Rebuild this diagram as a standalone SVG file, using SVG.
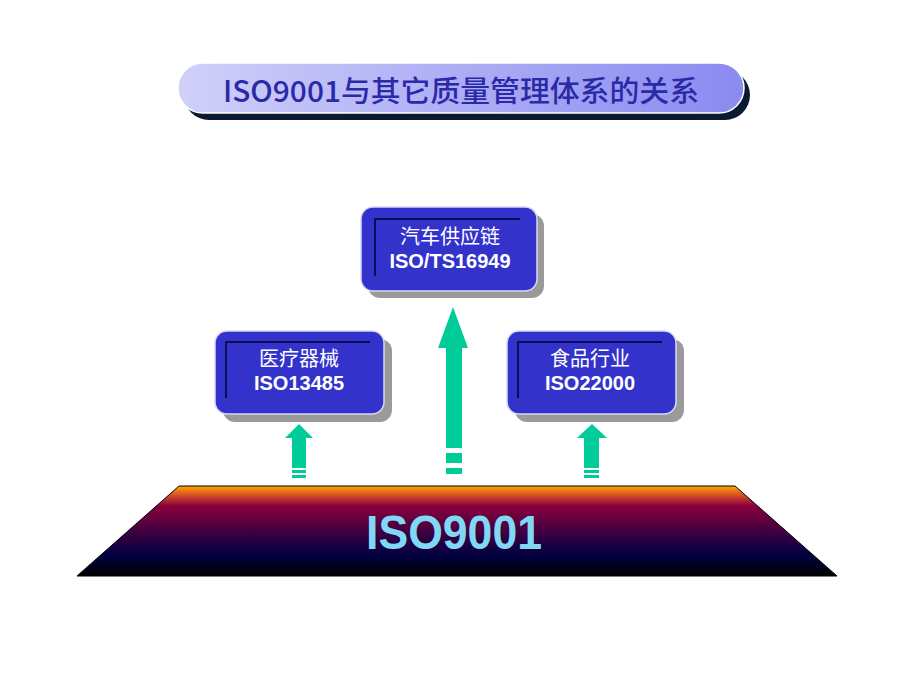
<svg xmlns="http://www.w3.org/2000/svg" width="920" height="690" viewBox="0 0 920 690">
  <defs>
    <linearGradient id="titleGrad" x1="0" y1="0" x2="1" y2="0">
      <stop offset="0" stop-color="#d0d0fa"/>
      <stop offset="1" stop-color="#8a8af0"/>
    </linearGradient>
    <linearGradient id="baseGrad" x1="0" y1="0" x2="0" y2="1">
      <stop offset="0" stop-color="#ffa800"/>
      <stop offset="0.08" stop-color="#e06020"/>
      <stop offset="0.22" stop-color="#8a003c"/>
      <stop offset="0.5" stop-color="#400040"/>
      <stop offset="0.78" stop-color="#000040"/>
      <stop offset="1" stop-color="#000000"/>
    </linearGradient>
    <style>
      .shadow { fill: #9a9a9a; }
      .box { fill: #3333cc; stroke: #d8d8f8; stroke-width: 1.5; }
      .inner { fill: none; stroke: #000030; stroke-width: 1.5; }
      .cjk { font-family: "Noto Sans CJK SC", "Noto Sans", sans-serif; font-size: 20px; fill: #ffffff; text-anchor: middle; }
      .code { font-family: "Liberation Sans", Arial, sans-serif; font-weight: bold; font-size: 20px; fill: #ffffff; text-anchor: middle; }
      .arrow { fill: #00cc99; }
    </style>
  </defs>

  <rect width="920" height="690" fill="#ffffff"/>

  <g id="title">
    <rect x="184" y="70" width="566" height="50" rx="25" fill="#0a1a30"/>
    <rect x="178" y="63" width="566" height="50" rx="25" fill="url(#titleGrad)" stroke="#ffffff" stroke-width="1.5"/>
    <text x="461" y="102" font-family="'Noto Sans CJK SC', 'Noto Sans', sans-serif" font-size="29" font-weight="500" fill="#2a2aa8" text-anchor="middle" textLength="476" lengthAdjust="spacingAndGlyphs">ISO9001与其它质量管理体系的关系</text>
  </g>

  <g id="node-auto">
    <rect class="shadow" x="368" y="214" width="176" height="84" rx="12"/>
    <rect class="box" x="361" y="207" width="176" height="84" rx="12"/>
    <polyline class="inner" points="375,276 375,219 520,219"/>
    <text class="cjk" x="450" y="244">汽车供应链</text>
    <text class="code" x="450" y="268">ISO/TS16949</text>
  </g>

  <g id="node-medical">
    <rect class="shadow" x="223" y="339" width="169" height="83" rx="12"/>
    <rect class="box" x="215" y="331" width="169" height="83" rx="12"/>
    <polyline class="inner" points="226,398 226,342 370,342"/>
    <text class="cjk" x="299" y="366">医疗器械</text>
    <text class="code" x="299" y="390">ISO13485</text>
  </g>

  <g id="node-food">
    <rect class="shadow" x="515" y="339" width="169" height="83" rx="12"/>
    <rect class="box" x="507" y="331" width="169" height="83" rx="12"/>
    <polyline class="inner" points="518,398 518,342 662,342"/>
    <text class="cjk" x="590" y="366">食品行业</text>
    <text class="code" x="590" y="390">ISO22000</text>
  </g>

  <g id="connectors">
    <g class="arrow">
      <polygon points="299,424 313,438 306,438 306,468 292,468 292,438 285,438"/>
      <rect x="292" y="470" width="14" height="3"/>
      <rect x="292" y="475" width="14" height="3"/>
      <polygon points="453,307 468,348 462,348 462,448 446,448 446,348 438,348"/>
      <rect x="446" y="453" width="16" height="10"/>
      <rect x="446" y="468" width="16" height="6"/>
      <polygon points="592,424 607,438 599,438 599,468 584,468 584,438 577,438"/>
      <rect x="584" y="470" width="15" height="3"/>
      <rect x="584" y="475" width="15" height="3"/>
    </g>
  </g>

  <g id="node-iso9001">
    <polygon points="179,486 735,486 837,576 77,576" fill="url(#baseGrad)" stroke="#000000" stroke-width="1"/>
    <text x="454" y="549" font-family="'Liberation Sans', Arial, sans-serif" font-weight="bold" font-size="48" fill="#80d8f4" text-anchor="middle" textLength="176" lengthAdjust="spacingAndGlyphs">ISO9001</text>
  </g>
</svg>
